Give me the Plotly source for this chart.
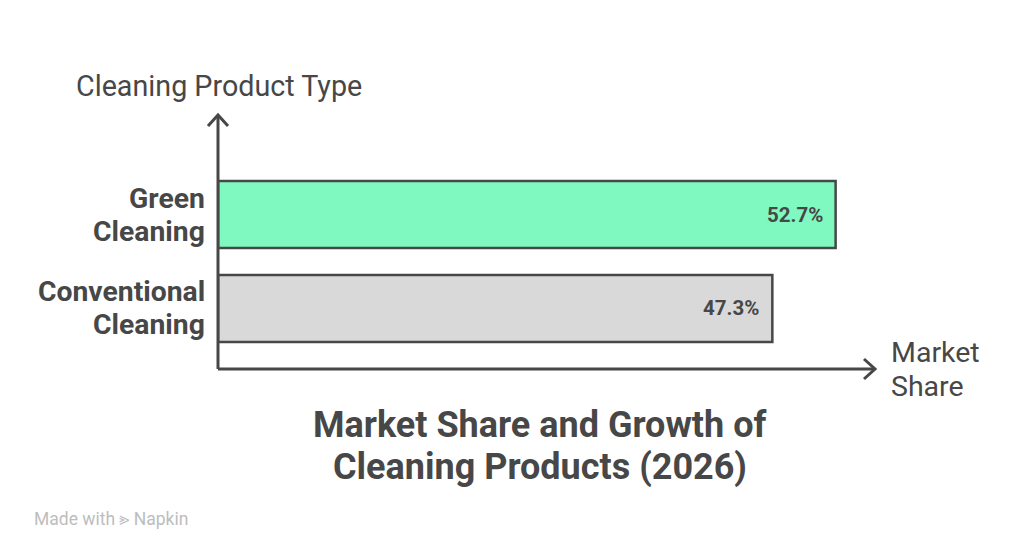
import plotly.graph_objects as go

categories = ["Conventional Cleaning", "Green Cleaning"]
tick_label_lines = [["Conventional", "Cleaning"], ["Green", "Cleaning"]]
values = [47.3, 52.7]
value_labels = ["47.3%", "52.7%"]
bar_colors = ["#d9d9d9", "#80f9c0"]
title_lines = ["Market Share and Growth of", "Cleaning Products (2026)"]
y_title = "Cleaning Product Type"
x_title_lines = ["Market", "Share"]

# page offset (body margin) compensation
OFF = 8
W, H = 1024 - 2 * OFF, 558 - 2 * OFF
L, R, T, B = 218, 875, 115, 369  # plot area in page pixels
ink = "#474747"

def px(x):
    return (x - L) / (R - L)

def py(y):
    return (B - y) / (B - T)

fig = go.Figure(go.Bar(
    y=categories, x=values, orientation="h",
    marker=dict(color=bar_colors, line=dict(color=ink, width=2.5)),
    width=0.713,
    hoverinfo="skip",
))

fig.update_layout(
    width=W, height=H,
    margin=dict(l=L - OFF, r=W - (R - OFF), t=T - OFF, b=H - (B - OFF), pad=0),
    paper_bgcolor="white", plot_bgcolor="white",
    showlegend=False,
    font=dict(family="Roboto", color=ink),
    xaxis=dict(range=[0, 56.06], showgrid=False, zeroline=False, showticklabels=False, showline=False, fixedrange=True),
    yaxis=dict(range=[-0.644, 2.059], showgrid=False, zeroline=False, showline=False,
               showticklabels=False, ticks="", fixedrange=True),
)

lw = 3
shapes = [
    dict(type="line", xref="paper", yref="paper", x0=0, y0=0, x1=0, y1=py(116), line=dict(color=ink, width=lw)),
    dict(type="path", xref="paper", yref="paper",
         path=f"M {px(208)} {py(126)} L {px(218)} {py(115)} L {px(228)} {py(126)}", line=dict(color=ink, width=lw)),
    dict(type="line", xref="paper", yref="paper", x0=0, y0=0, x1=px(874), y1=0, line=dict(color=ink, width=lw)),
    dict(type="path", xref="paper", yref="paper",
         path=f"M {px(864)} {py(359)} L {px(875)} {py(369)} L {px(864)} {py(379)}", line=dict(color=ink, width=lw)),
]
fig.update_layout(shapes=shapes)

ann = []
# y axis title
ann.append(dict(text=y_title, x=px(74), y=py(86), xref="paper", yref="paper",
                xanchor="left", yanchor="middle", font=dict(size=28.7, color=ink)))
# x axis title lines
for i, line in enumerate(x_title_lines):
    ann.append(dict(text=line, x=px(889), y=py(352 + 34 * i), xref="paper", yref="paper",
                    xanchor="left", yanchor="middle", font=dict(size=28.5, color=ink)))
# chart title lines
for i, line in enumerate(title_lines):
    ann.append(dict(text=f"<b>{line}</b>", x=px(539.5), y=py(425 + 42 * i), xref="paper", yref="paper",
                    xanchor="center", yanchor="middle", font=dict(size=36, color=ink)))
# category labels
for cat, lines in zip(categories, tick_label_lines):
    n = len(lines)
    for i, line in enumerate(lines):
        ann.append(dict(text=f"<b>{line}</b>", x=px(207), y=cat, xref="paper", yref="y",
                        xanchor="right", yanchor="middle", yshift=16.5 * (n - 1) - 33 * i,
                        font=dict(size=28.3, color=ink)))
# value labels
for cat, v, lab in zip(categories, values, value_labels):
    ann.append(dict(text=f"<b>{lab}</b>", x=v, y=cat, xref="x", yref="y",
                    xanchor="right", yanchor="middle", xshift=-11,
                    font=dict(size=20.5, color=ink)))
# footer
ann.append(dict(text="Made with \u2AA2 Napkin", x=px(32), y=py(519), xref="paper", yref="paper",
                xanchor="left", yanchor="middle", font=dict(size=17.5, color="#bdbdbd")))
for a in ann:
    a.update(showarrow=False)
fig.update_layout(annotations=ann)

fig.write_html("out.html")
